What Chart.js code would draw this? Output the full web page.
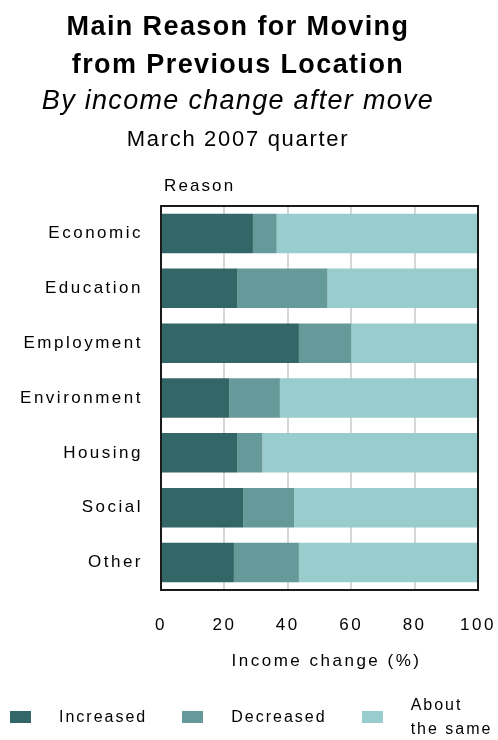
<!DOCTYPE html>
<html>
<head>
<meta charset="utf-8">
<script src="https://cdn.jsdelivr.net/npm/chart.js@4/dist/chart.umd.min.js"></script>
<style>
html,body{margin:0;padding:0;background:#fff;}
#wrap{position:relative;width:498px;height:740px;overflow:hidden;font-family:"Liberation Sans",Arial,sans-serif;color:#000;}
#c{position:absolute;left:0;top:0;}
.t{position:absolute;left:0;width:476px;text-align:center;white-space:nowrap;line-height:1;}
#t1,#t2{font-weight:bold;font-size:27px;letter-spacing:1.4px;}
#t1{top:13px;}
#t2{top:51px;}
#t3{top:87px;font-style:italic;font-size:27px;letter-spacing:1.3px;}
#t4{top:128px;font-size:22px;letter-spacing:1.7px;}
#ytitle{position:absolute;left:164px;top:177px;font-size:17px;line-height:1;letter-spacing:2.1px;}
#xtitle{position:absolute;left:0;width:653px;top:652px;text-align:center;font-size:17px;line-height:1;letter-spacing:2.5px;white-space:nowrap;}
#legend{position:absolute;left:10px;top:693px;height:48px;display:flex;align-items:center;font-size:16px;letter-spacing:2px;}
.sw{width:21px;height:12px;margin-right:28px;flex:none;}
.lb{line-height:24px;margin-right:35px;white-space:nowrap;}
.lb.wrap{white-space:pre-line;margin-right:0;}
</style>
</head>
<body>
<div id="wrap">
  <canvas id="c" width="498" height="740"></canvas>
  <div class="t" id="t1">Main Reason for Moving</div>
  <div class="t" id="t2">from Previous Location</div>
  <div class="t" id="t3">By income change after move</div>
  <div class="t" id="t4">March 2007 quarter</div>
  <div id="ytitle">Reason</div>
  <div id="xtitle">Income change (%)</div>
  <div id="legend"></div>
</div>
<script>
// ---- data ----
const categories = ['Economic', 'Education', 'Employment', 'Environment', 'Housing', 'Social', 'Other'];
const seriesNames = ['Increased', 'Decreased', 'About the same'];
const increased = [29, 24, 43.5, 21.5, 24, 26, 23];
const decreased = [7.5, 28.5, 16.5, 16, 8, 16, 20.5];
const aboutSame = [63.5, 47.5, 40, 62.5, 68, 58, 56.5];
const xTickValues = [0, 20, 40, 60, 80, 100];

// ---- styles ----
const seriesColors = ['#336666', '#669999', '#99cccc'];
const seriesValues = [increased, decreased, aboutSame];

const datasets = seriesNames.map((name, i) => ({
  label: name,
  data: seriesValues[i],
  backgroundColor: seriesColors[i],
  borderWidth: 0,
  categoryPercentage: 1,
  barPercentage: 0.72
}));

const spacingPlugin = {
  id: 'spacing',
  beforeDraw(chart) { chart.ctx.letterSpacing = '2.5px'; }
};
const framePlugin = {
  id: 'frame',
  afterDatasetsDraw(chart) {
    const {ctx, chartArea: {left, top, right, bottom}} = chart;
    ctx.save();
    ctx.strokeStyle = '#1a1a1a';
    ctx.lineWidth = 2;
    ctx.strokeRect(left, top, right - left, bottom - top);
    ctx.restore();
  }
};

const tickFont = {family: '"Liberation Sans", Arial, sans-serif', size: 17};

new Chart(document.getElementById('c'), {
  type: 'bar',
  data: {labels: categories, datasets},
  options: {
    indexAxis: 'y',
    responsive: false,
    animation: false,
    devicePixelRatio: 1,
    events: [],
    layout: {padding: {top: 206, right: 20, bottom: 70, left: 0}},
    plugins: {legend: {display: false}, title: {display: false}, tooltip: {enabled: false}},
    scales: {
      x: {
        stacked: true,
        min: 0,
        max: 100,
        afterFit(s) { s.height = 80; s.paddingRight = 0; s.paddingLeft = 0; },
        afterBuildTicks(s) { s.ticks = xTickValues.map(v => ({value: v})); },
        ticks: {font: tickFont, color: '#000', padding: 25, autoSkip: false, maxRotation: 0},
        grid: {
          drawTicks: false,
          lineWidth: 2,
          color: c => (c.tick && (c.tick.value === 0 || c.tick.value === 100)) ? 'rgba(0,0,0,0)' : '#d6d6d6'
        },
        border: {display: false}
      },
      y: {
        stacked: true,
        afterFit(s) { s.width = 161; s.paddingTop = 0; s.paddingBottom = 0; },
        ticks: {font: tickFont, color: '#000', padding: 18, autoSkip: false},
        grid: {display: false, drawTicks: false},
        border: {display: false}
      }
    }
  },
  plugins: [spacingPlugin, framePlugin]
});

// legend (HTML) built from the series
const legend = document.getElementById('legend');
seriesNames.forEach((name, i) => {
  const sw = document.createElement('div');
  sw.className = 'sw';
  sw.style.background = seriesColors[i];
  const lb = document.createElement('div');
  const multi = name.split(' ').length > 2;
  lb.className = 'lb' + (multi ? ' wrap' : '');
  lb.textContent = multi ? name.replace(' ', '\n') : name;
  legend.appendChild(sw);
  legend.appendChild(lb);
});
</script>
</body>
</html>
